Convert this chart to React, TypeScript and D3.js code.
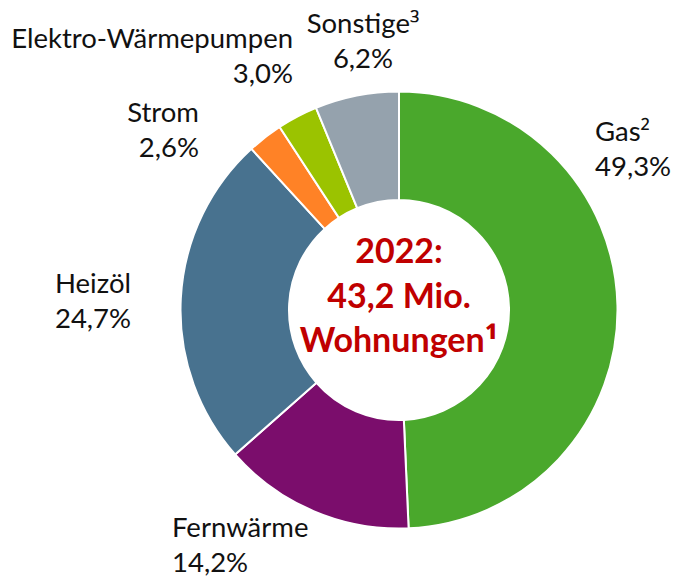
import React from "react";
import * as d3 from "d3";

// ---- data ----
const categories = ["Gas²", "Fernwärme", "Heizöl", "Strom", "Elektro-Wärmepumpen", "Sonstige³"];
const shares = [49.3, 14.2, 24.7, 2.6, 3.0, 6.2];
const valueLabels = ["49,3%", "14,2%", "24,7%", "2,6%", "3,0%", "6,2%"];
const centerLines = ["2022:", "43,2 Mio.", "Wohnungen¹"];

// ---- styles / layout ----
const colors = ["#4AA82C", "#7B0D6C", "#48728F", "#FF8226", "#9BC300", "#95A2AD"];
// label anchor relative to donut center: [dx, dy of first baseline, text-anchor]
const labelLayout: [number, number, string][] = [
  [196, -169, "start"],
  [-227, 227, "start"],
  [-306, -17, "middle"],
  [-200, -188, "end"],
  [-106, -262, "end"],
  [-36, -277, "middle"],
];

const W = 673;
const H = 578;
const CX = 399;
const CY = 310;
const R_OUT = 218.5;
const R_IN = 110;
const LINE = 35;
const FONT = "Lato, 'Open Sans', sans-serif";
const SUP_FONT = "'Open Sans', Lato, sans-serif";
const SUPS = "¹²³";

function splitSup(s: string): [string, string] {
  const last = s.slice(-1);
  return SUPS.includes(last) ? [s.slice(0, -1), last] : [s, ""];
}

export default function App() {
  const pie = d3
    .pie<number>()
    .sort(null)
    .value((d) => d)
    .startAngle(0)
    .endAngle(2 * Math.PI);
  const arcs = pie(shares);
  const arc = d3.arc<d3.PieArcDatum<number>>().innerRadius(R_IN).outerRadius(R_OUT);

  return (
    <svg
      width={W}
      height={H}
      style={{ position: "absolute", left: 0, top: 0, background: "#fff" }}
    >
      <g transform={`translate(${CX},${CY})`}>
        {arcs.map((a, i) => (
          <path key={i} d={arc(a) || ""} fill={colors[i]} stroke="#fff" strokeWidth={2} />
        ))}
        {centerLines.map((t, i) => {
          const [main, sup] = splitSup(t);
          return (
            <text
              key={i}
              x={0}
              y={-47 + i * 44.5}
              textAnchor="middle"
              fontFamily={FONT}
              fontWeight={700}
              fontSize={34}
              fill="#C00000"
            >
              {main}
              {sup && (
                <tspan fontFamily={SUP_FONT} fontSize={36} dy={2}>
                  {sup}
                </tspan>
              )}
            </text>
          );
        })}
        {categories.map((c, i) => {
          const [dx, dy, anchor] = labelLayout[i];
          const [main, sup] = splitSup(c);
          return (
            <text
              key={c}
              textAnchor={anchor as any}
              fontFamily={FONT}
              fontSize={27.5}
              fill="#111"
            >
              <tspan x={dx} y={dy}>
                {main}
                {sup && (
                  <tspan fontFamily={SUP_FONT} fontSize={27}>
                    {sup}
                  </tspan>
                )}
              </tspan>
              <tspan x={dx} y={dy + LINE}>
                {valueLabels[i]}
              </tspan>
            </text>
          );
        })}
      </g>
    </svg>
  );
}
